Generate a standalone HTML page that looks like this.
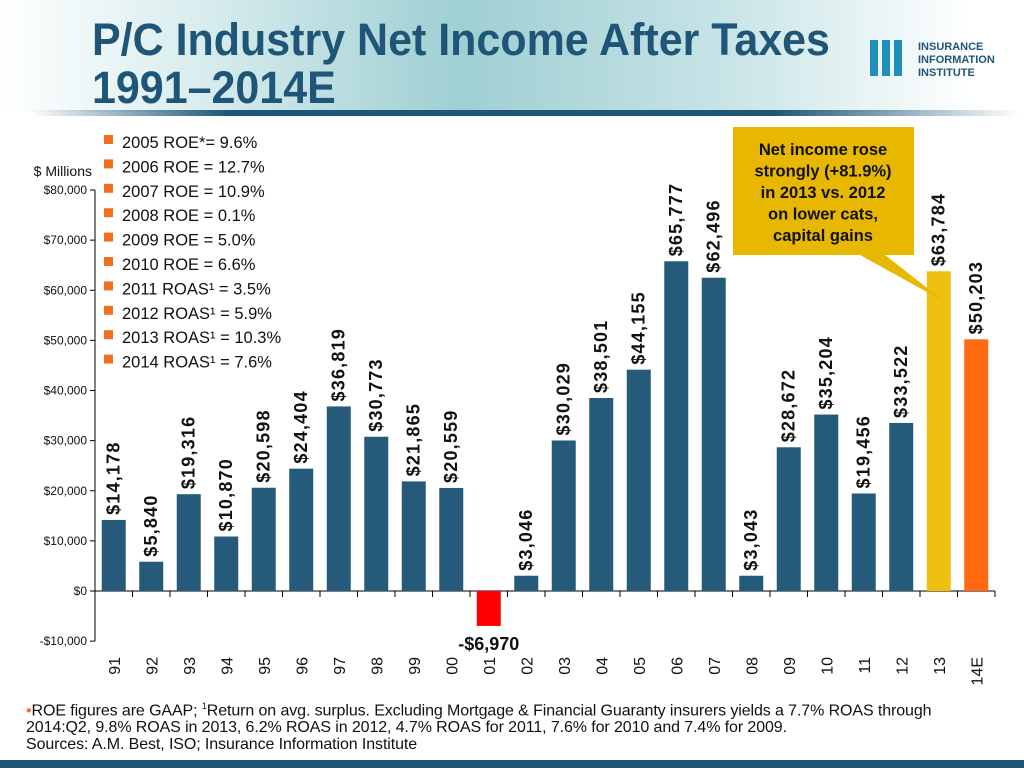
<!DOCTYPE html>
<html><head><meta charset="utf-8">
<style>
body{margin:0;width:1024px;height:768px;overflow:hidden;background:#fff;font-family:"Liberation Sans",sans-serif;position:relative}
.hdr{position:absolute;left:0;top:0;width:1024px;height:112px;background:linear-gradient(90deg,#fff 0%,#d8ecee 20%,#9fcfd3 45%,#c6e3e6 70%,#fff 95%)}
.hdrline{position:absolute;left:30px;top:110px;width:990px;height:6px;background:linear-gradient(90deg,rgba(30,80,110,0),#1f5678 20%,#1f5678 75%,rgba(30,80,110,0))}
.title{position:absolute;left:92px;top:16px;font-weight:bold;font-size:45px;line-height:48px;color:#1f5678;transform:scaleX(.955);transform-origin:left;white-space:nowrap}
.logo{position:absolute;left:870px;top:38px}
.foot{position:absolute;left:26px;font-size:16px;color:#111;line-height:17px;white-space:nowrap;letter-spacing:-0.1px}
.band{position:absolute;left:0;top:760px;width:1024px;height:8px;background:#1f5678}
</style></head><body>
<div class="hdr"></div>
<div class="hdrline"></div>
<div class="title">P/C Industry Net Income After Taxes<br>1991–2014E</div>
<div class="logo">
<svg width="150" height="42"><g fill="#1e8fb8"><rect x="0" y="2" width="8" height="36"/><rect x="12" y="2" width="8" height="36"/><rect x="24" y="2" width="8" height="36"/></g>
<text x="48" y="12" font-family="Liberation Sans" font-weight="bold" font-size="11" fill="#1f5678">INSURANCE</text>
<text x="48" y="25" font-family="Liberation Sans" font-weight="bold" font-size="11" fill="#1f5678">INFORMATION</text>
<text x="48" y="38" font-family="Liberation Sans" font-weight="bold" font-size="11" fill="#1f5678">INSTITUTE</text></svg></div>
<svg id="chart" width="1024" height="768" style="position:absolute;left:0;top:0"></svg>
<div class="foot" style="top:698px"><span style="color:#f07020">•</span>ROE figures are GAAP; <sup style="font-size:9px">1</sup>Return on avg. surplus.  Excluding Mortgage &amp; Financial Guaranty insurers yields a 7.7% ROAS through<br>2014:Q2, 9.8% ROAS in 2013, 6.2% ROAS in 2012, 4.7% ROAS for 2011, 7.6% for 2010 and 7.4% for 2009.</div>
<div class="foot" style="top:736px">Sources: A.M. Best, ISO; Insurance Information Institute</div>
<div class="band"></div>
<script>
const categories=["91","92","93","94","95","96","97","98","99","00","01","02","03","04","05","06","07","08","09","10","11","12","13","14E"];
const values=[14178,5840,19316,10870,20598,24404,36819,30773,21865,20559,-6970,3046,30029,38501,44155,65777,62496,3043,28672,35204,19456,33522,63784,50203];
const yTicks=[-10000,0,10000,20000,30000,40000,50000,60000,70000,80000];
const legendItems=["2005 ROE*= 9.6%","2006 ROE = 12.7%","2007 ROE = 10.9%","2008 ROE = 0.1%","2009 ROE = 5.0%","2010 ROE = 6.6%","2011 ROAS¹ = 3.5%","2012 ROAS¹ = 5.9%","2013 ROAS¹ = 10.3%","2014 ROAS¹ = 7.6%"];
const NS="http://www.w3.org/2000/svg",svg=document.getElementById('chart');
const X0=95,X1=995,Y0=591,PX=401/80000;
const y=v=>Y0-v*PX;const bw=(X1-X0)/categories.length;const xc=i=>X0+bw*(i+.5);
function el(t,a,p){const e=document.createElementNS(NS,t);for(const k in a)e.setAttribute(k,a[k]);(p||svg).appendChild(e);return e;}
const fmt=v=>(v<0?"-$":"$")+Math.abs(v).toLocaleString('en-US');
let ax=el('line',{x1:X0,x2:X0,y1:y(80000),y2:y(-10000),stroke:'#000','stroke-width':1});

let xa=el('line',{x1:X0,x2:X1,y1:Y0,y2:Y0,stroke:'#000','stroke-width':1});

yTicks.forEach(t=>{el('line',{x1:X0-5,x2:X0,y1:y(t),y2:y(t),stroke:'#000'});
const tx=el('text',{x:X0-8,y:y(t)+4,'text-anchor':'end','font-size':12,fill:'#111'});tx.textContent=(t<0?"-$":"$")+Math.abs(t).toLocaleString('en-US');
});
let um=el('text',{x:92,y:176,'text-anchor':'end','font-size':14,fill:'#111'});um.textContent="$ Millions";

for(let i=0;i<=categories.length;i++)el('line',{x1:X0+bw*i,x2:X0+bw*i,y1:Y0,y2:Y0+6,stroke:'#000'});
categories.forEach((c,i)=>{const v=values[i];
const col=c==="13"?"#f0c010":c==="14E"?"#ff6a10":v<0?"#ff0000":"#255a7a";
const b=el('rect',{x:xc(i)-12,y:Math.min(y(v),Y0),width:24,height:Math.abs(y(v)-Y0),fill:col});

let lb;
if(v<0){lb=el('text',{x:xc(i),y:y(v)+24,'text-anchor':'middle','font-size':18,'font-weight':'bold',fill:'#111'});}
else{const yy=y(v)-5;lb=el('text',{x:xc(i)+6,y:yy,'text-anchor':'start','font-size':18,'font-weight':'bold','letter-spacing':'1.2',fill:'#111',transform:`rotate(-90 ${xc(i)+6} ${yy})`});}
lb.textContent=fmt(v);
const cy=657;const cl=el('text',{x:xc(i)+6,y:cy,'text-anchor':'end','font-size':16,fill:'#111',transform:`rotate(-90 ${xc(i)+6} ${cy})`});
cl.textContent=c;});
legendItems.forEach((t,i)=>{const yy=148+i*24.4;
const sq=el('rect',{x:104,y:yy-13,width:9,height:9,fill:'#f07020'});

const tx=el('text',{x:122,y:yy,'font-size':16.5,fill:'#111'});tx.textContent=t;
});
const co=el('path',{d:'M733 127 H914 V255 H885 L945 302 L860 255 H733 Z',fill:'#e8b800'});

["Net income rose","strongly (+81.9%)","in 2013 vs. 2012","on lower cats,","capital gains"].forEach((t,i)=>{
const tx=el('text',{x:823,y:155+i*21.5,'text-anchor':'middle','font-size':16.5,'font-weight':'bold',fill:'#111'});tx.textContent=t;
});
</script>
</body></html>
